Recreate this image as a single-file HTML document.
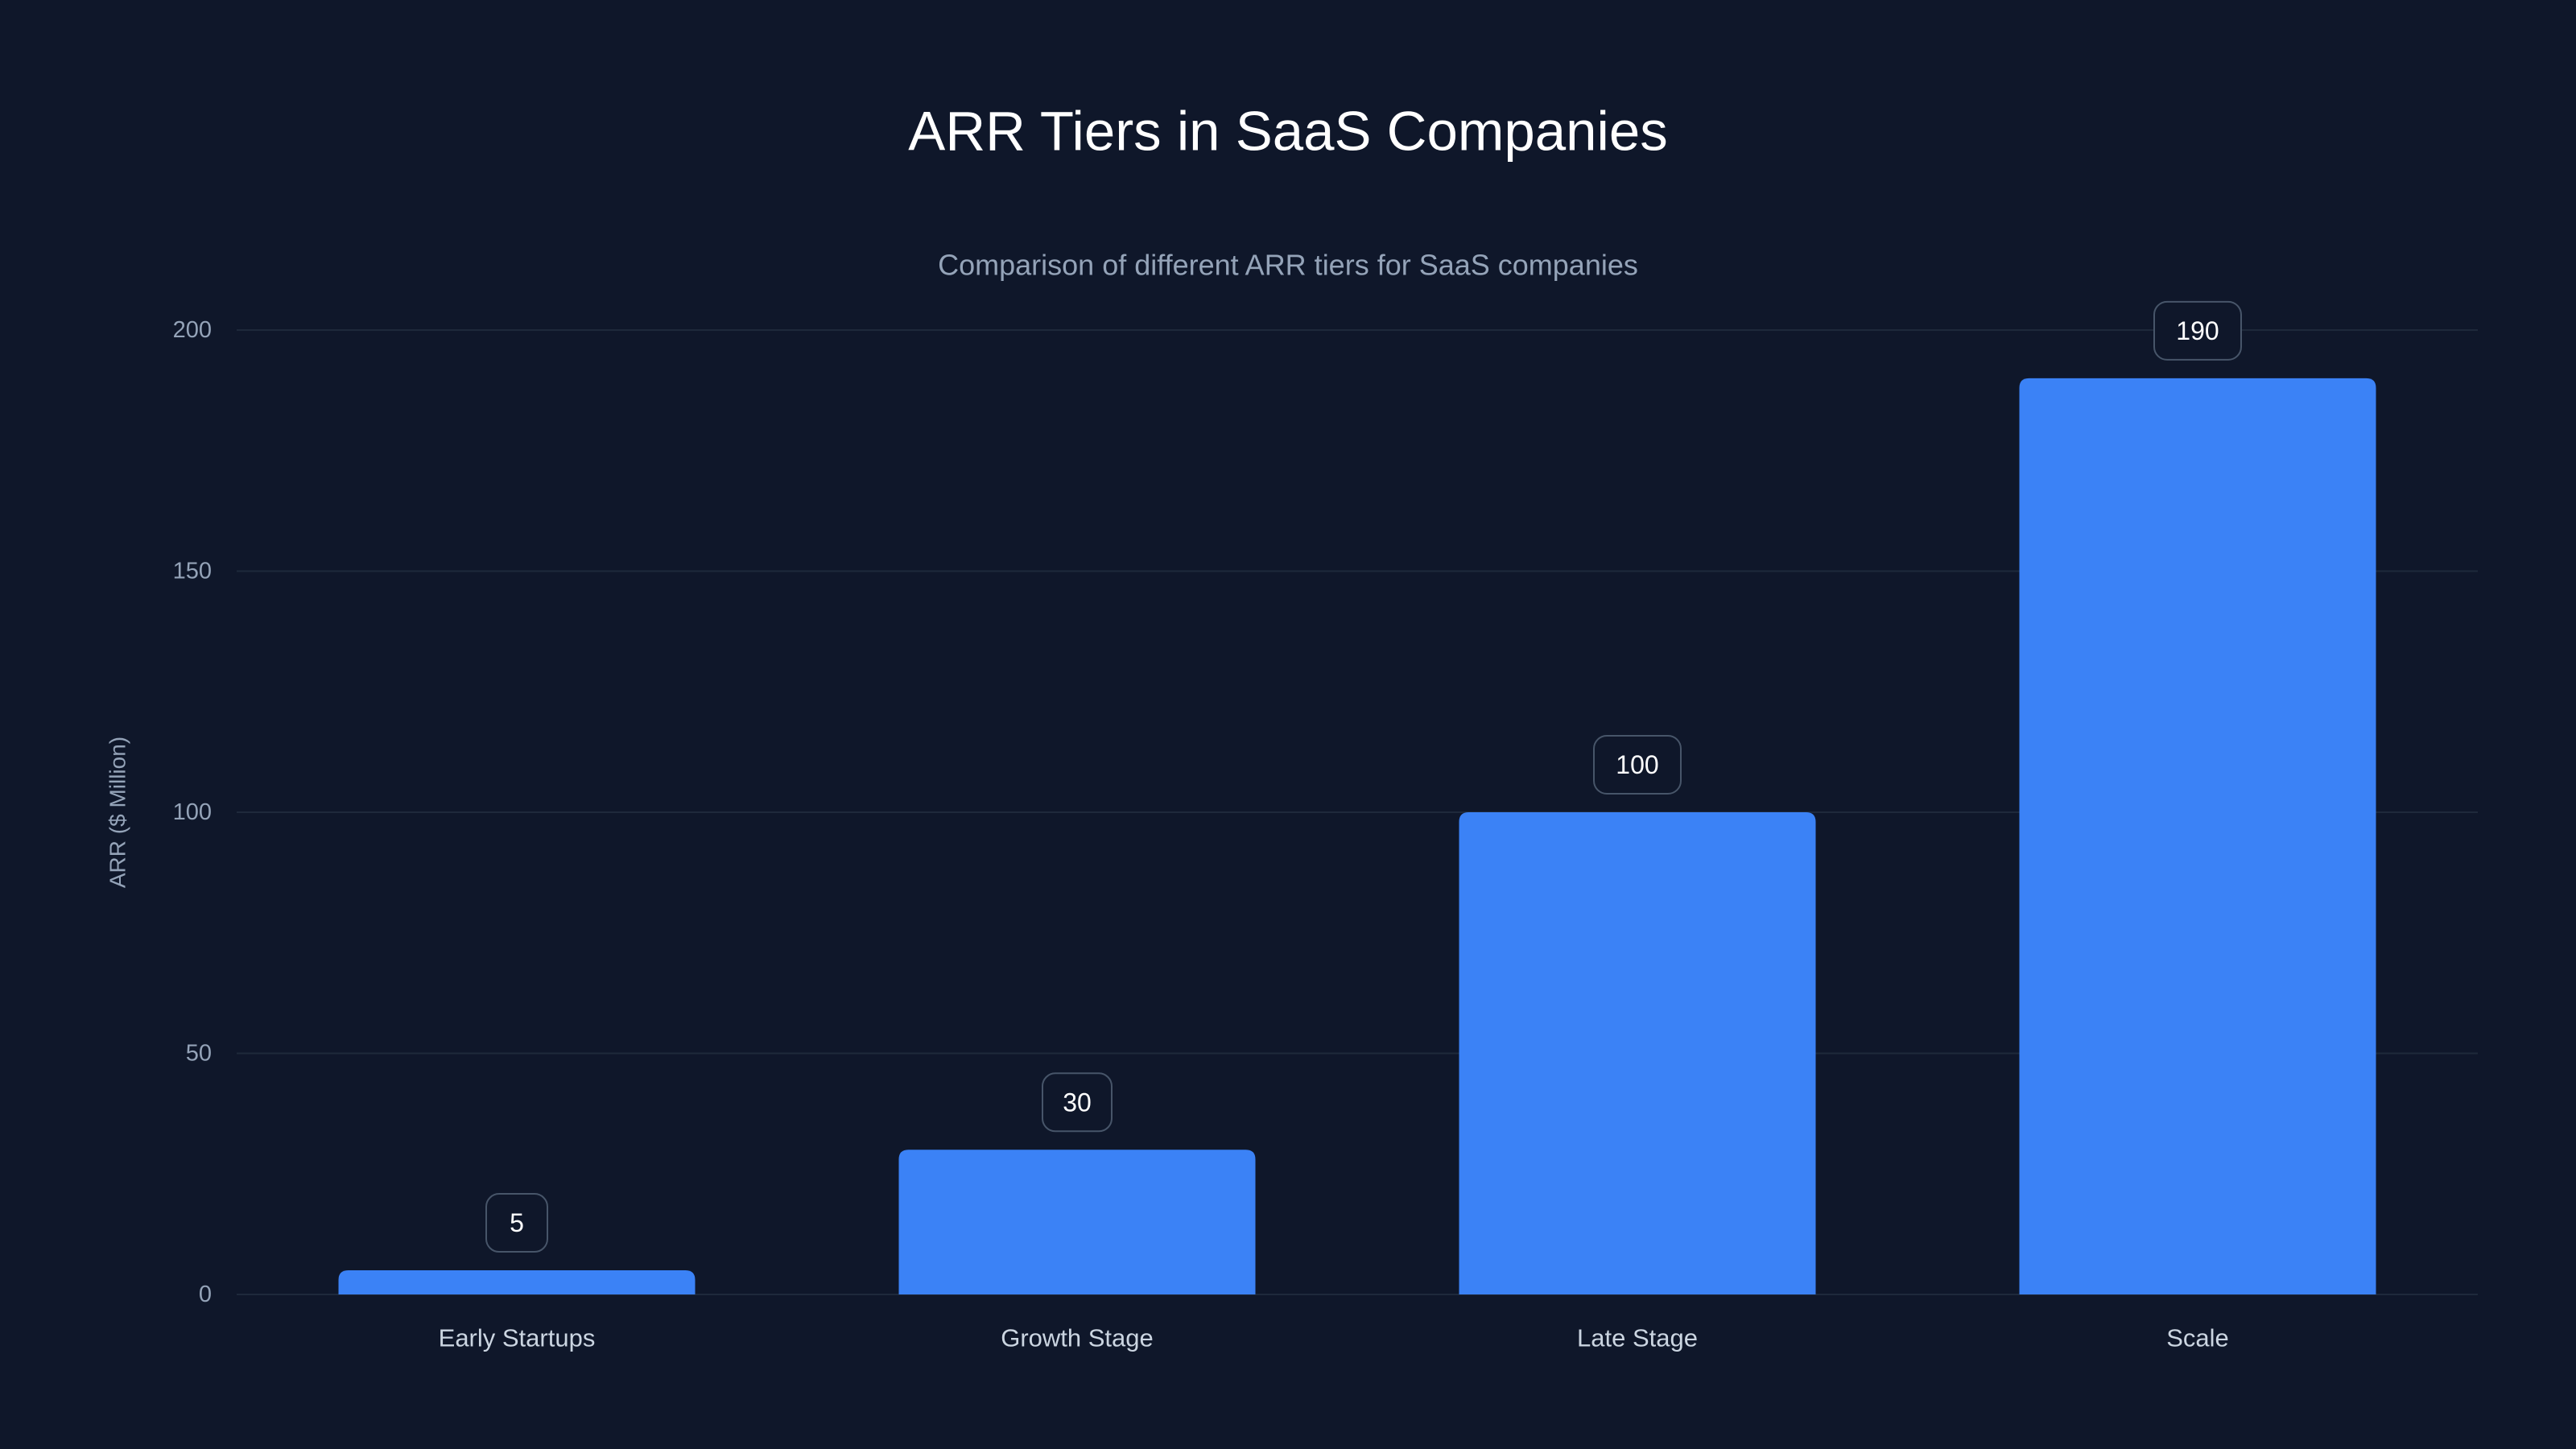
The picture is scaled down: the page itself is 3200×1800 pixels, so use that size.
<!DOCTYPE html>
<html><head><meta charset="utf-8"><style>
html,body{margin:0;padding:0;background:#0f172a;}
svg{display:block;font-family:"Liberation Sans",sans-serif;}
</style></head><body>
<svg id="chart" width="3200" height="1800" viewBox="0 0 3200 1800">
<rect width="3200" height="1800" fill="#0f172a"/>
<text x="1600" y="163" text-anchor="middle" dominant-baseline="central" font-size="69" fill="#ffffff">ARR Tiers in SaaS Companies</text>
<text x="1600" y="329" text-anchor="middle" dominant-baseline="central" font-size="36" fill="#94a3b8">Comparison of different ARR tiers for SaaS companies</text>
<text transform="translate(146,1009) rotate(-90)" text-anchor="middle" dominant-baseline="central" font-size="28" fill="#94a3b8">ARR ($ Million)</text>
<g id="grid"></g>
<g id="bars"></g>
<g id="xlabels"></g>
</svg>
<script>
const categories = ["Early Startups","Growth Stage","Late Stage","Scale"];
const values = [5,30,100,190];
const yTicks = [0,50,100,150,200];
const NS="http://www.w3.org/2000/svg";
const X0=294,X1=3078,Y0=1608,Y1=410,YMAX=200;
const band=(X1-X0)/categories.length, bw=443;
const y=v=>Y0-(v/YMAX)*(Y0-Y1);
const xc=i=>X0+band*(i+0.5);
function mk(t,a,p){const e=document.createElementNS(NS,t);for(const k in a)e.setAttribute(k,a[k]);p.appendChild(e);return e;}
const grid=document.getElementById('grid');
yTicks.forEach(t=>{
  const l=mk('line',{x1:X0,x2:X1,y1:y(t),y2:y(t),stroke:'#1e293b','stroke-width':2},grid);
  
  
  const tx=mk('text',{x:263,y:y(t),'text-anchor':'end','dominant-baseline':'central','font-size':29,fill:'#94a3b8'},grid);
  tx.textContent=t;
  
  
});
const bars=document.getElementById('bars'), xl=document.getElementById('xlabels');
categories.forEach((c,i)=>{
  const v=values[i], top=y(v), x=xc(i)-bw/2, h=Y0-top, r=Math.min(12,h);
  const p=mk('path',{d:`M${x},${Y0} V${top+r} Q${x},${top} ${x+r},${top} H${x+bw-r} Q${x+bw},${top} ${x+bw},${top+r} V${Y0} Z`,fill:'#3b82f6'},bars);
  
  
  const s=String(v), w=Math.max(76,s.length*22+42), cy=top-59;
  const g=mk('g',{},bars);
  
  
  mk('rect',{x:xc(i)-w/2,y:cy-36,width:w,height:72,rx:16,fill:'#0f172a',stroke:'#475569','stroke-width':2},g);
  const t=mk('text',{x:xc(i),y:cy,'text-anchor':'middle','dominant-baseline':'central','font-size':32,fill:'#ffffff'},g);
  t.textContent=s;
  const lab=mk('text',{x:xc(i),y:1662,'text-anchor':'middle','dominant-baseline':'central','font-size':31,fill:'#cbd5e1'},xl);
  lab.textContent=c;
  
  
});
</script>
</body></html>
